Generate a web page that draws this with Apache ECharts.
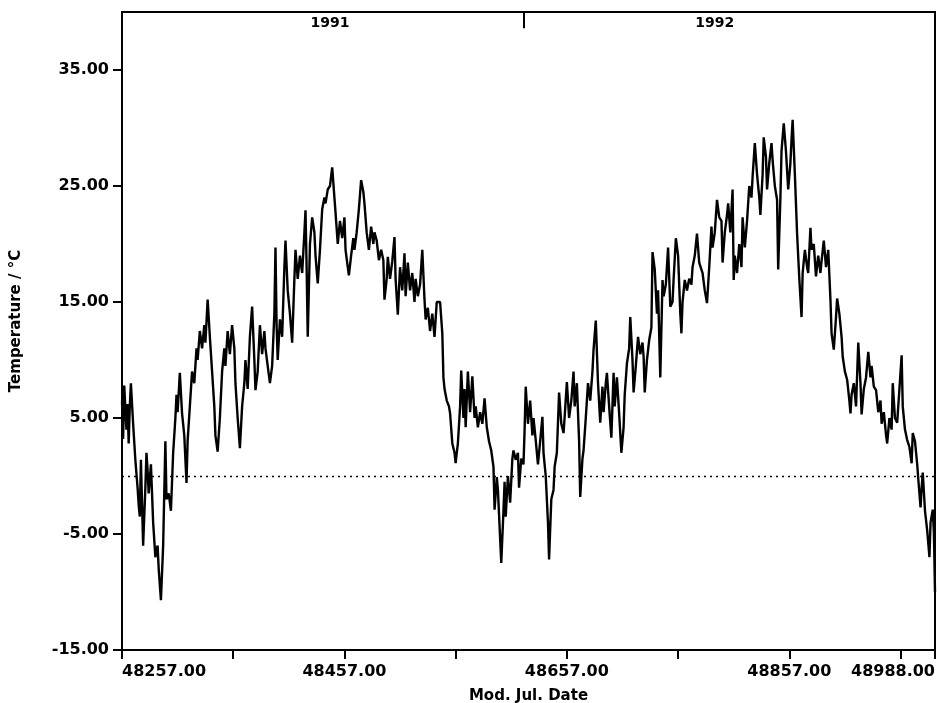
<!DOCTYPE html>
<html>
<head>
<meta charset="utf-8">
<script src="https://cdn.jsdelivr.net/npm/echarts@6/dist/echarts.min.js"></script>
<style>
  html, body { margin: 0; padding: 0; background: #fff; }
  #chart { width: 937px; height: 703px; }
</style>
</head>
<body>
<div id="chart"></div>
<script>
// Modified Julian Date of each traced point
var mjd = [
  48257,48258,48259,48261,48262,48263,48264,48265,48267,48269,48271,48272,48273,48274,48276,48278,48279,48280,48281,48283,
  48285,48287,48289,48290,48292,48294,48296,48297,48299,48301,48303,48305,48306,48307,48309,48311,48313,48315,48316,48318,
  48320,48322,48324,48325,48327,48329,48331,48332,48334,48336,48338,48340,48341,48343,48345,48347,48349,48350,48352,48354,
  48356,48358,48359,48361,48363,48365,48367,48368,48370,48372,48374,48376,48377,48379,48381,48383,48385,48386,48388,48390,
  48392,48394,48395,48396,48397,48399,48401,48403,48404,48406,48408,48410,48412,48413,48415,48417,48419,48421,48422,48423,
  48424,48426,48428,48430,48431,48433,48435,48437,48439,48440,48442,48444,48446,48448,48449,48451,48453,48455,48457,48458,
  48460,48461,48463,48465,48466,48468,48470,48472,48474,48475,48477,48479,48481,48483,48484,48486,48488,48490,48492,48493,
  48495,48496,48498,48500,48502,48503,48505,48507,48509,48511,48512,48514,48516,48518,48520,48521,48523,48525,48527,48529,
  48530,48532,48534,48536,48538,48539,48540,48543,48545,48546,48547,48549,48551,48552,48554,48556,48557,48558,48559,48561,
  48562,48564,48565,48566,48568,48570,48572,48574,48575,48577,48579,48581,48583,48585,48587,48589,48591,48592,48594,48595,
  48598,48600,48601,48602,48604,48606,48608,48609,48611,48613,48614,48616,48618,48619,48620,48622,48624,48626,48627,48629,
  48631,48633,48635,48636,48638,48640,48641,48643,48645,48646,48648,48650,48652,48654,48655,48657,48659,48661,48663,48664,
  48666,48668,48669,48671,48672,48674,48676,48678,48680,48681,48683,48685,48687,48689,48690,48692,48693,48695,48697,48699,
  48700,48702,48704,48706,48708,48709,48711,48713,48714,48716,48717,48719,48721,48723,48725,48726,48727,48729,48731,48733,
  48734,48736,48738,48739,48741,48743,48744,48746,48748,48750,48752,48753,48755,48757,48759,48760,48761,48763,48765,48767,
  48769,48770,48772,48774,48776,48778,48779,48781,48783,48785,48787,48788,48790,48792,48794,48796,48797,48799,48801,48802,
  48804,48806,48807,48808,48810,48812,48814,48815,48817,48819,48821,48823,48824,48826,48828,48830,48831,48833,48834,48836,
  48837,48839,48841,48842,48844,48846,48847,48849,48850,48852,48854,48856,48858,48859,48860,48862,48864,48866,48868,48869,
  48871,48873,48874,48876,48877,48879,48881,48883,48885,48886,48888,48890,48892,48894,48895,48897,48899,48900,48902,48904,
  48905,48907,48909,48911,48912,48913,48915,48917,48919,48921,48922,48924,48926,48928,48930,48931,48933,48935,48937,48939,
  48940,48942,48944,48945,48947,48949,48950,48952,48954,48956,48958,48959,48961,48963,48965,48967,48968,48970,48972,48973,
  48975,48976,48977,48979,48981,48983,48984,48986,48987,48988
];
// Temperature / degC at each point
var temp = [
  6.5,3.2,7.8,4.0,6.2,2.8,6.0,8.0,4.5,1.4,-1.0,-2.5,-3.5,1.4,-6.0,-1.0,2.0,0.5,-1.5,1.0,
  -4.0,-7.0,-6.0,-8.0,-10.7,-6.0,3.0,-2.0,-1.5,-3.0,2.0,5.0,7.0,5.5,8.9,5.4,3.5,-0.6,3.0,6.0,
  9.0,8.0,11.0,10.0,12.5,11.0,13.0,11.5,15.2,12.0,9.0,6.0,3.5,2.1,5.0,9.0,11.0,9.5,12.5,10.5,
  13.0,11.0,8.0,5.0,2.4,6.0,8.0,10.0,7.5,12.0,14.6,10.0,7.4,9.0,13.0,10.5,12.5,11.0,9.5,8.0,
  9.5,14.0,19.7,13.0,10.0,13.5,12.0,18.0,20.3,16.0,14.0,11.5,17.0,19.5,17.0,19.0,17.5,21.0,22.9,18.0,
  12.0,20.0,22.3,21.0,19.0,16.6,19.5,23.0,24.0,23.5,24.7,25.0,26.6,24.0,22.7,20.0,22.0,20.5,22.3,19.5,
  18.0,17.3,19.0,20.5,19.5,21.0,23.0,25.5,24.5,23.5,21.0,19.5,21.5,20.0,21.0,20.3,18.6,19.5,18.6,15.2,
  17.0,18.9,17.0,18.5,20.6,17.0,13.9,18.0,16.0,19.2,15.5,18.4,16.0,17.5,15.0,17.0,15.5,16.5,19.5,15.2,
  13.5,14.5,12.5,14.0,12.0,13.5,15.0,15.0,12.3,8.5,7.5,6.5,6.0,5.4,2.8,2.0,1.1,2.0,2.8,6.0,
  9.1,5.0,7.5,4.2,9.0,5.5,8.6,5.0,6.0,4.2,5.5,4.5,6.7,4.2,3.0,2.2,0.8,-2.9,-0.1,-1.2,
  -7.5,-3.0,-0.5,-3.5,0.0,-2.3,1.5,2.2,1.4,2.0,-1.0,1.5,1.0,4.0,7.7,4.5,6.5,3.5,5.0,3.1,
  1.0,3.0,5.1,2.0,0.0,-4.0,-7.2,-2.0,-1.2,0.8,2.0,7.2,4.5,3.7,5.1,8.1,5.0,6.5,9.0,6.0,
  8.0,3.0,-1.8,1.5,2.2,5.0,8.0,6.5,9.0,10.9,13.4,8.0,4.6,7.7,5.5,8.0,8.9,6.0,3.3,8.9,
  6.0,8.5,5.4,2.0,4.2,7.0,9.7,11.0,13.7,10.0,7.2,9.5,12.0,10.5,11.5,10.3,7.2,10.0,11.7,12.8,
  19.3,17.8,14.0,16.0,8.5,16.9,15.5,16.5,19.7,14.6,15.0,17.0,20.5,19.0,14.0,12.3,15.0,16.9,16.0,17.0,
  16.5,18.0,19.0,20.9,18.4,17.8,17.5,16.0,14.9,18.0,21.5,19.7,21.0,23.8,22.3,22.0,18.4,21.0,22.5,23.5,
  21.0,24.7,16.9,19.0,17.5,20.0,18.0,22.3,19.7,22.0,25.0,24.0,25.8,28.7,26.0,24.0,22.5,26.0,29.2,27.5,
  24.7,27.0,28.7,27.2,25.0,23.8,17.8,24.0,28.0,30.4,28.0,24.7,27.0,29.0,30.7,26.0,20.9,17.0,13.7,17.5,
  19.5,18.0,17.5,21.4,19.5,20.0,17.2,19.0,17.5,18.5,20.3,18.0,19.5,15.2,12.3,10.9,13.7,15.3,14.0,12.0,
  10.3,9.0,8.3,6.5,5.4,7.0,8.0,6.0,11.5,8.0,5.3,7.5,8.5,10.7,8.5,9.5,7.7,7.4,5.5,6.5,
  4.5,5.5,3.5,2.8,5.0,4.0,8.0,5.0,4.6,7.5,10.4,6.0,4.0,3.1,2.5,1.1,3.7,3.0,1.0,-0.3,
  -2.7,-1.0,0.3,-3.0,-4.7,-7.0,-4.0,-2.9,-4.9,-10.0
];

var xTickVals  = [48257, 48357, 48457, 48557, 48657, 48757, 48857, 48957, 48988];
var xLabelVals = [48257, 48457, 48657, 48857, 48988];
var yTickVals  = [-15, -5, 5, 15, 25, 35];
var yearLabels = ['1991', '1992'];
var yearPos    = [48444, 48790];
var yearBreak  = 48618;

var seriesData = mjd.map(function (d, i) { return [d, temp[i]]; });

var fontFam = '"DejaVu Sans", sans-serif';
var chart = echarts.init(document.getElementById('chart'), null, { renderer: 'canvas' });
chart.setOption({
  animation: false,
  backgroundColor: '#ffffff',
  grid: {
    left: 122, right: 2, top: 12, bottom: 53,
    containLabel: false, outerBoundsMode: 'none',
    show: true, borderColor: '#000', borderWidth: 2, backgroundColor: 'transparent'
  },
  xAxis: [
    {
      type: 'value', position: 'bottom', min: 48257, max: 48988,
      name: 'Mod. Jul. Date', nameLocation: 'middle', nameGap: 39,
      nameTextStyle: { color: '#000', fontFamily: fontFam, fontWeight: 'bold', fontSize: 15 },
      axisLine: { show: true, onZero: false, lineStyle: { color: '#000', width: 2 } },
      axisTick: { show: true, customValues: xTickVals, length: 9, lineStyle: { color: '#000', width: 2 } },
      axisLabel: {
        show: true, customValues: xLabelVals, margin: 14,
        color: '#000', fontFamily: fontFam, fontWeight: 'bold', fontSize: 16,
        alignMinLabel: 'left', alignMaxLabel: 'right',
        formatter: function (v) { return v.toFixed(2); }
      },
      splitLine: { show: false }
    },
    {
      type: 'value', position: 'top', min: 48257, max: 48988,
      axisLine: { show: false },
      axisTick: { show: false },
      axisLabel: {
        show: true, inside: true, customValues: yearPos, margin: 4,
        color: '#000', fontFamily: fontFam, fontWeight: 'bold', fontSize: 14,
        formatter: function (v) { var i = yearPos.indexOf(v); return i >= 0 ? yearLabels[i] : ''; }
      },
      splitLine: { show: false }
    }
  ],
  yAxis: {
    type: 'value', min: -15, max: 40,
    name: 'Temperature / \u00B0C', nameLocation: 'middle', nameRotate: 90, nameGap: 98,
    nameTextStyle: { color: '#000', fontFamily: fontFam, fontWeight: 'bold', fontSize: 15, padding: [0, 0, 0, 20] },
    axisLine: { show: true, onZero: false, lineStyle: { color: '#000', width: 2 } },
    axisTick: { show: true, customValues: yTickVals, length: 9, lineStyle: { color: '#000', width: 2 } },
    axisLabel: {
      show: true, customValues: yTickVals, margin: 13,
      color: '#000', fontFamily: fontFam, fontWeight: 'bold', fontSize: 16,
      formatter: function (v) { return v.toFixed(2); }
    },
    splitLine: { show: false }
  },
  series: [
    {
      type: 'line',
      xAxisIndex: 0,
      data: seriesData,
      symbol: 'none',
      smooth: false,
      lineStyle: { color: '#000', width: 2.4 },
      markLine: {
        silent: true, symbol: 'none', animation: false,
        label: { show: false },
        lineStyle: { color: '#000', type: [2, 4], width: 1.3 },
        data: [{ yAxis: 0 }]
      }
    },
    {
      type: 'line',
      xAxisIndex: 0,
      data: [],
      markLine: {
        silent: true, symbol: 'none', animation: false,
        label: { show: false },
        lineStyle: { color: '#000', type: 'solid', width: 2 },
        data: [[{ coord: [yearBreak, 40] }, { coord: [yearBreak, 38.6] }]]
      }
    }
  ]
});
</script>
</body>
</html>
